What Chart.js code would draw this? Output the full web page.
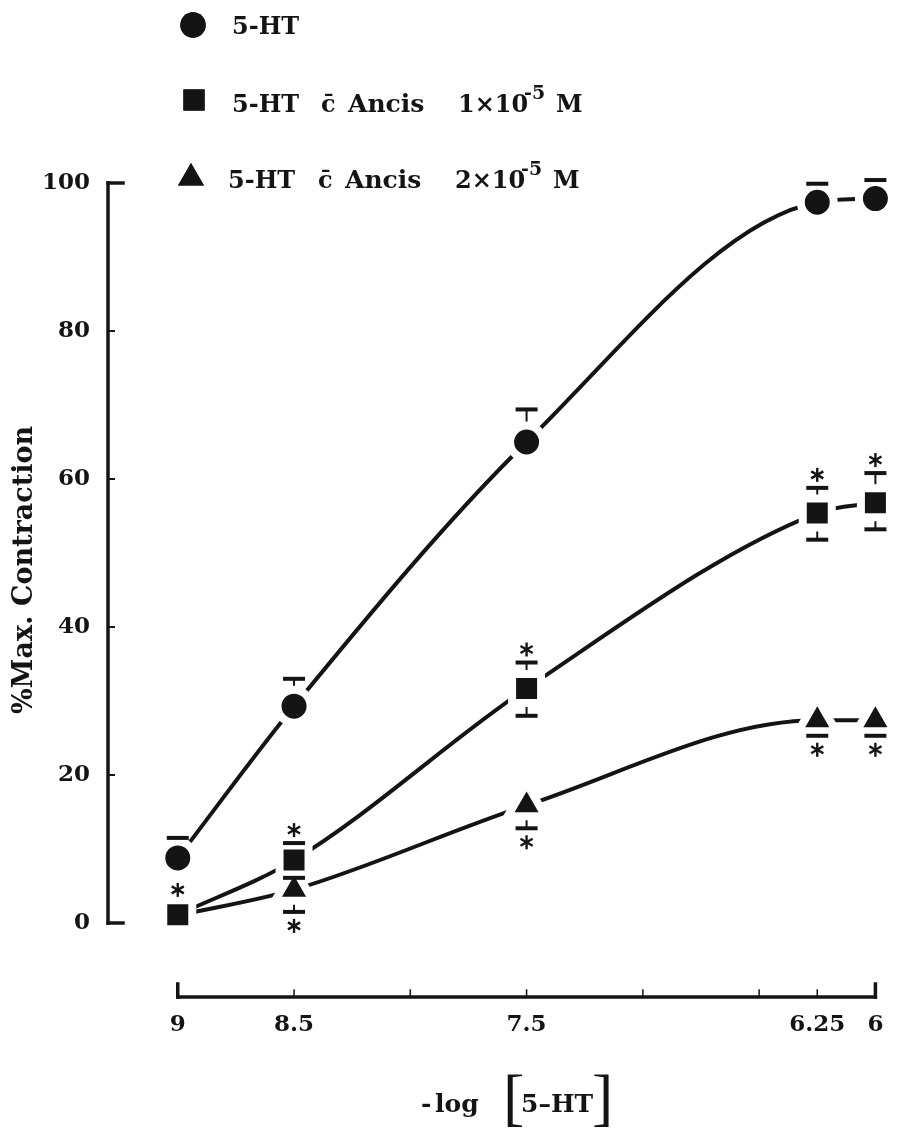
<!DOCTYPE html>
<html>
<head>
<meta charset="utf-8">
<script src="https://cdn.jsdelivr.net/npm/chart.js@4.4.1/dist/chart.umd.min.js"></script>
<style>
  html, body { margin: 0; padding: 0; background: #fff; }
  #wrap { width: 899px; height: 1132px; position: relative; }
</style>
</head>
<body>
<div id="wrap"><canvas id="chart"></canvas></div>
<script>
// -log[5-HT] doses and axis marks
const doses = [9, 8.5, 7.5, 6.25, 6];
const xLabels = [9, 8.5, 7.5, 6.25, 6];
const xMarks = [9, 8.5, 8, 7.5, 7, 6.5, 6.25, 6];
const yTicks = [0, 20, 40, 60, 80, 100];

const seriesNames = ['5-HT', '5-HT c\u0304 Ancis 1\u00d710\u207b\u2075 M', '5-HT c\u0304 Ancis 2\u00d710\u207b\u2075 M'];
const ancisConc = ['', '1', '2'];

// 5-HT alone
const ctrl = [8.8, 29.3, 65.0, 97.4, 97.9];
const ctrlUp = [11.5, 33.0, 69.4, 99.9, 100.4];

// 5-HT + Ancis 1x10^-5 M
const ancis1 = [1.1, 8.5, 31.7, 55.4, 56.8];
const ancis1Up = [null, 10.8, 35.2, 58.8, 60.8];
const ancis1Lo = [null, 6.1, 28.0, 51.8, 53.2];
const ancis1Sig = [true, true, true, true, true];

// 5-HT + Ancis 2x10^-5 M
const ancis2 = [1.0, 4.5, 15.9, 27.4, 27.4];
const ancis2Lo = [null, 1.5, 12.8, 25.3, 25.3];
const ancis2Sig = [false, true, true, true, true];

const INK = '#141414';
const SERIF = 'DejaVu Serif';

function xPix(chart, v) { return chart.scales.x.getPixelForValue(v); }
function yPix(chart, v) { return chart.scales.y.getPixelForValue(v); }

function line(ctx, x1, y1, x2, y2, w) {
    ctx.lineWidth = w;
    ctx.beginPath();
    ctx.moveTo(x1, y1);
    ctx.lineTo(x2, y2);
    ctx.stroke();
}

function drawAsterisk(ctx, x, y) {
    const r = 7;
    [90, 30, 150].forEach(a => {
        const dx = Math.cos(a * Math.PI / 180) * r;
        const dy = Math.sin(a * Math.PI / 180) * r;
        line(ctx, x - dx, y - dy, x + dx, y + dy, 2.4);
    });
}

function points(vals) {
    return doses.map((d, i) => ({ x: d, y: vals[i] }));
}

// [dose, centre, end] for every error bar
function barList() {
    const out = [];
    doses.forEach((d, i) => {
        out.push([d, ctrl[i], ctrlUp[i]]);
        if (ancis1Up[i] != null) out.push([d, ancis1[i], ancis1Up[i]]);
        if (ancis1Lo[i] != null) out.push([d, ancis1[i], ancis1Lo[i]]);
        if (ancis2Lo[i] != null) out.push([d, ancis2[i], ancis2Lo[i]]);
    });
    return out;
}

// stems go under the markers (the white rim trims them), caps and asterisks on top
const errorBars = {
    id: 'errorBars',
    beforeDatasetsDraw(chart) {
        const ctx = chart.ctx;
        ctx.save();
        ctx.strokeStyle = INK;
        barList().forEach(([d, v, e]) => {
            const x = xPix(chart, d);
            line(ctx, x, yPix(chart, v), x, yPix(chart, e), 2);
        });
        ctx.restore();
    },
    afterDatasetsDraw(chart) {
        const ctx = chart.ctx;
        ctx.save();
        ctx.strokeStyle = INK;
        barList().forEach(([d, v, e]) => {
            const x = xPix(chart, d);
            line(ctx, x - 11, yPix(chart, e), x + 11, yPix(chart, e), 4);
        });
        doses.forEach((d, i) => {
            const x = xPix(chart, d);
            if (ancis1Sig[i]) {
                const y = ancis1Up[i] != null ? yPix(chart, ancis1Up[i]) - 13 : yPix(chart, ancis1[i]) - 25;
                drawAsterisk(ctx, x, y);
            }
            if (ancis2Sig[i]) {
                const y = ancis2Lo[i] != null ? yPix(chart, ancis2Lo[i]) + 14 : yPix(chart, ancis2[i]) + 25;
                drawAsterisk(ctx, x, y);
            }
        });
        ctx.restore();
    }
};

// axis lines: y only spans 0..100, x only spans 9..6 with inward ticks
const axisLines = {
    id: 'axisLines',
    afterDraw(chart) {
        const ctx = chart.ctx;
        const area = chart.chartArea;
        ctx.save();
        ctx.strokeStyle = INK;
        ctx.lineCap = 'square';
        const ax = area.left;
        line(ctx, ax, yPix(chart, 0), ax, yPix(chart, 100), 3.5);
        yTicks.forEach(v => {
            const end = v === 0 || v === 100;
            line(ctx, ax, yPix(chart, v), ax + (end ? 15 : 6), yPix(chart, v), end ? 3.5 : 2);
        });
        const by = area.bottom;
        line(ctx, xPix(chart, 9), by, xPix(chart, 6), by, 3.5);
        xMarks.forEach(v => {
            const end = v === 9 || v === 6;
            line(ctx, xPix(chart, v), by, xPix(chart, v), by - (end ? 13 : 7), end ? 3.5 : 1.5);
        });
        ctx.restore();
    }
};

// titles and key
const annotations = {
    id: 'annotations',
    afterDraw(chart) {
        const ctx = chart.ctx;
        ctx.save();
        ctx.fillStyle = INK;
        ctx.textBaseline = 'alphabetic';

        // y title
        ctx.save();
        ctx.translate(25, 570);
        ctx.rotate(-Math.PI / 2);
        ctx.textAlign = 'center';
        ctx.textBaseline = 'middle';
        ctx.font = `bold 27px "${SERIF}"`;
        ctx.fillText('%Max. Contraction', 0, 0);
        ctx.restore();

        // x title: - log [5-HT]
        ctx.textAlign = 'left';
        ctx.font = `bold 25px "${SERIF}"`;
        ctx.fillText('-', 421, 1112);
        ctx.fillText('log', 435, 1112);
        ctx.fillText('5\u2013HT', 521, 1112);
        ctx.font = '64px "Liberation Serif"';
        ctx.fillText('[', 503, 1118);
        ctx.fillText(']', 592, 1118);

        // key
        const rows = [
            { y: 25, base: 34, mx: 193, textX: 232 },
            { y: 100, base: 112, mx: 194, textX: 232 },
            { y: 178, base: 188, mx: 191, textX: 228 }
        ];
        const styles = chart.data.datasets.map(ds => ds.pointStyle);
        const sizes = { circle: 12.7, rect: 15, triangle: 15 };
        rows.forEach((r, i) => {
            Chart.helpers.drawPoint(ctx, { pointStyle: styles[i], radius: sizes[styles[i]], rotation: 0, borderWidth: 0 }, r.mx, r.y);
            ctx.fill();
            ctx.font = `bold 24px "${SERIF}"`;
            ctx.fillText('5-HT', r.textX, r.base);
            if (!ancisConc[i]) return;
            const dx = i === 1 ? 0 : -3;
            ctx.fillText('c\u0304', 321 + dx, r.base);
            ctx.font = `bold 25px "${SERIF}"`;
            ctx.fillText('Ancis', 348 + dx, r.base);
            ctx.font = `bold 24px "${SERIF}"`;
            ctx.fillText(ancisConc[i] + '\u00d710', 458 + dx, r.base);
            ctx.font = `bold 19px "${SERIF}"`;
            ctx.fillText('-5', 524 + dx, r.base - 13);
            ctx.font = `bold 24px "${SERIF}"`;
            ctx.fillText('M', 556 + dx, r.base);
        });
        ctx.restore();
    }
};

const common = {
    borderColor: INK,
    borderWidth: 4,
    pointBackgroundColor: INK,
    pointBorderColor: '#fff',
    pointBorderWidth: 8,
    cubicInterpolationMode: 'monotone',
    fill: false,
    clip: false
};

const tickFont = { family: SERIF, weight: 'bold', size: 23 };

new Chart(document.getElementById('chart'), {
    type: 'line',
    data: {
        datasets: [
            { ...common, label: seriesNames[0], data: points(ctrl), pointStyle: 'circle', pointRadius: 16.5, pointHoverRadius: 16.5 },
            { ...common, label: seriesNames[1], data: points(ancis1), pointStyle: 'rect', pointRadius: 20.5, pointHoverRadius: 20.5 },
            { ...common, label: seriesNames[2], data: points(ancis2), pointStyle: 'triangle', pointRadius: 21.9, pointHoverRadius: 21.9 }
        ]
    },
    options: {
        responsive: true,
        maintainAspectRatio: false,
        animation: false,
        layout: { autoPadding: false, padding: { top: 146, right: 5, bottom: 0, left: 0 } },
        plugins: { legend: { display: false }, tooltip: { enabled: false } },
        scales: {
            x: {
                type: 'linear',
                reverse: true,
                min: 5.92,
                max: 9.3,
                afterFit(s) { s.height = 135; },
                afterBuildTicks(s) { s.ticks = xLabels.map(v => ({ value: v })); },
                grid: { display: false },
                border: { display: false },
                ticks: { autoSkip: false, maxRotation: 0, padding: 6, color: INK, font: tickFont, callback: v => String(v) }
            },
            y: {
                min: -10,
                max: 105,
                afterFit(s) { s.width = 108; },
                afterBuildTicks(s) { s.ticks = yTicks.map(v => ({ value: v })); },
                grid: { display: false },
                border: { display: false },
                ticks: { padding: 10, color: INK, font: tickFont }
            }
        }
    },
    plugins: [errorBars, axisLines, annotations]
});
</script>
</body>
</html>
